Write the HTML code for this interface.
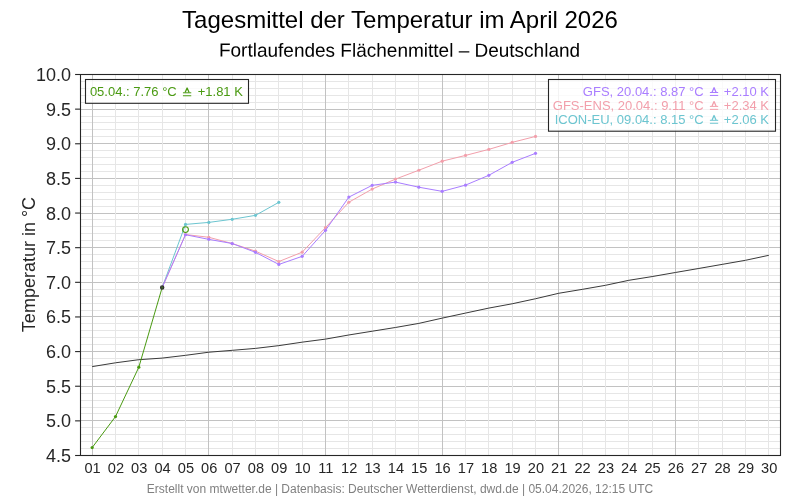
<!DOCTYPE html>
<html><head><meta charset="utf-8"><title>Tagesmittel der Temperatur</title>
<style>
html,body{margin:0;padding:0;background:#fff;}
svg{display:block;will-change:transform;font-family:"Liberation Sans",sans-serif;}
</style></head>
<body>
<svg width="800" height="500" viewBox="0 0 800 500">
<rect width="800" height="500" fill="#fff"/>
<line x1="80.5" x2="780.5" y1="455.5" y2="455.5" stroke="#c2c2c2" stroke-width="1"/>
<line x1="80.5" x2="780.5" y1="420.5" y2="420.5" stroke="#c2c2c2" stroke-width="1"/>
<line x1="80.5" x2="780.5" y1="386.5" y2="386.5" stroke="#c2c2c2" stroke-width="1"/>
<line x1="80.5" x2="780.5" y1="351.5" y2="351.5" stroke="#c2c2c2" stroke-width="1"/>
<line x1="80.5" x2="780.5" y1="316.5" y2="316.5" stroke="#c2c2c2" stroke-width="1"/>
<line x1="80.5" x2="780.5" y1="282.5" y2="282.5" stroke="#c2c2c2" stroke-width="1"/>
<line x1="80.5" x2="780.5" y1="247.5" y2="247.5" stroke="#c2c2c2" stroke-width="1"/>
<line x1="80.5" x2="780.5" y1="213.5" y2="213.5" stroke="#c2c2c2" stroke-width="1"/>
<line x1="80.5" x2="780.5" y1="178.5" y2="178.5" stroke="#c2c2c2" stroke-width="1"/>
<line x1="80.5" x2="780.5" y1="143.5" y2="143.5" stroke="#c2c2c2" stroke-width="1"/>
<line x1="80.5" x2="780.5" y1="109.5" y2="109.5" stroke="#c2c2c2" stroke-width="1"/>
<line x1="80.5" x2="780.5" y1="74.5" y2="74.5" stroke="#c2c2c2" stroke-width="1"/>
<line x1="80.5" x2="780.5" y1="448.5" y2="448.5" stroke="#e6e6e6" stroke-width="1"/>
<line x1="80.5" x2="780.5" y1="441.5" y2="441.5" stroke="#e6e6e6" stroke-width="1"/>
<line x1="80.5" x2="780.5" y1="434.5" y2="434.5" stroke="#e6e6e6" stroke-width="1"/>
<line x1="80.5" x2="780.5" y1="427.5" y2="427.5" stroke="#e6e6e6" stroke-width="1"/>
<line x1="80.5" x2="780.5" y1="413.5" y2="413.5" stroke="#e6e6e6" stroke-width="1"/>
<line x1="80.5" x2="780.5" y1="407.5" y2="407.5" stroke="#e6e6e6" stroke-width="1"/>
<line x1="80.5" x2="780.5" y1="400.5" y2="400.5" stroke="#e6e6e6" stroke-width="1"/>
<line x1="80.5" x2="780.5" y1="393.5" y2="393.5" stroke="#e6e6e6" stroke-width="1"/>
<line x1="80.5" x2="780.5" y1="379.5" y2="379.5" stroke="#e6e6e6" stroke-width="1"/>
<line x1="80.5" x2="780.5" y1="372.5" y2="372.5" stroke="#e6e6e6" stroke-width="1"/>
<line x1="80.5" x2="780.5" y1="365.5" y2="365.5" stroke="#e6e6e6" stroke-width="1"/>
<line x1="80.5" x2="780.5" y1="358.5" y2="358.5" stroke="#e6e6e6" stroke-width="1"/>
<line x1="80.5" x2="780.5" y1="344.5" y2="344.5" stroke="#e6e6e6" stroke-width="1"/>
<line x1="80.5" x2="780.5" y1="337.5" y2="337.5" stroke="#e6e6e6" stroke-width="1"/>
<line x1="80.5" x2="780.5" y1="330.5" y2="330.5" stroke="#e6e6e6" stroke-width="1"/>
<line x1="80.5" x2="780.5" y1="323.5" y2="323.5" stroke="#e6e6e6" stroke-width="1"/>
<line x1="80.5" x2="780.5" y1="310.5" y2="310.5" stroke="#e6e6e6" stroke-width="1"/>
<line x1="80.5" x2="780.5" y1="303.5" y2="303.5" stroke="#e6e6e6" stroke-width="1"/>
<line x1="80.5" x2="780.5" y1="296.5" y2="296.5" stroke="#e6e6e6" stroke-width="1"/>
<line x1="80.5" x2="780.5" y1="289.5" y2="289.5" stroke="#e6e6e6" stroke-width="1"/>
<line x1="80.5" x2="780.5" y1="275.5" y2="275.5" stroke="#e6e6e6" stroke-width="1"/>
<line x1="80.5" x2="780.5" y1="268.5" y2="268.5" stroke="#e6e6e6" stroke-width="1"/>
<line x1="80.5" x2="780.5" y1="261.5" y2="261.5" stroke="#e6e6e6" stroke-width="1"/>
<line x1="80.5" x2="780.5" y1="254.5" y2="254.5" stroke="#e6e6e6" stroke-width="1"/>
<line x1="80.5" x2="780.5" y1="240.5" y2="240.5" stroke="#e6e6e6" stroke-width="1"/>
<line x1="80.5" x2="780.5" y1="233.5" y2="233.5" stroke="#e6e6e6" stroke-width="1"/>
<line x1="80.5" x2="780.5" y1="226.5" y2="226.5" stroke="#e6e6e6" stroke-width="1"/>
<line x1="80.5" x2="780.5" y1="219.5" y2="219.5" stroke="#e6e6e6" stroke-width="1"/>
<line x1="80.5" x2="780.5" y1="206.5" y2="206.5" stroke="#e6e6e6" stroke-width="1"/>
<line x1="80.5" x2="780.5" y1="199.5" y2="199.5" stroke="#e6e6e6" stroke-width="1"/>
<line x1="80.5" x2="780.5" y1="192.5" y2="192.5" stroke="#e6e6e6" stroke-width="1"/>
<line x1="80.5" x2="780.5" y1="185.5" y2="185.5" stroke="#e6e6e6" stroke-width="1"/>
<line x1="80.5" x2="780.5" y1="171.5" y2="171.5" stroke="#e6e6e6" stroke-width="1"/>
<line x1="80.5" x2="780.5" y1="164.5" y2="164.5" stroke="#e6e6e6" stroke-width="1"/>
<line x1="80.5" x2="780.5" y1="157.5" y2="157.5" stroke="#e6e6e6" stroke-width="1"/>
<line x1="80.5" x2="780.5" y1="150.5" y2="150.5" stroke="#e6e6e6" stroke-width="1"/>
<line x1="80.5" x2="780.5" y1="136.5" y2="136.5" stroke="#e6e6e6" stroke-width="1"/>
<line x1="80.5" x2="780.5" y1="129.5" y2="129.5" stroke="#e6e6e6" stroke-width="1"/>
<line x1="80.5" x2="780.5" y1="122.5" y2="122.5" stroke="#e6e6e6" stroke-width="1"/>
<line x1="80.5" x2="780.5" y1="116.5" y2="116.5" stroke="#e6e6e6" stroke-width="1"/>
<line x1="80.5" x2="780.5" y1="102.5" y2="102.5" stroke="#e6e6e6" stroke-width="1"/>
<line x1="80.5" x2="780.5" y1="95.5" y2="95.5" stroke="#e6e6e6" stroke-width="1"/>
<line x1="80.5" x2="780.5" y1="88.5" y2="88.5" stroke="#e6e6e6" stroke-width="1"/>
<line x1="80.5" x2="780.5" y1="81.5" y2="81.5" stroke="#e6e6e6" stroke-width="1"/>
<line y1="74.5" y2="455.5" x1="92.5" x2="92.5" stroke="#c2c2c2" stroke-width="1"/>
<line y1="74.5" y2="455.5" x1="208.5" x2="208.5" stroke="#c2c2c2" stroke-width="1"/>
<line y1="74.5" y2="455.5" x1="325.5" x2="325.5" stroke="#c2c2c2" stroke-width="1"/>
<line y1="74.5" y2="455.5" x1="442.5" x2="442.5" stroke="#c2c2c2" stroke-width="1"/>
<line y1="74.5" y2="455.5" x1="558.5" x2="558.5" stroke="#c2c2c2" stroke-width="1"/>
<line y1="74.5" y2="455.5" x1="675.5" x2="675.5" stroke="#c2c2c2" stroke-width="1"/>
<line y1="74.5" y2="455.5" x1="115.5" x2="115.5" stroke="#e6e6e6" stroke-width="1"/>
<line y1="74.5" y2="455.5" x1="138.5" x2="138.5" stroke="#e6e6e6" stroke-width="1"/>
<line y1="74.5" y2="455.5" x1="162.5" x2="162.5" stroke="#e6e6e6" stroke-width="1"/>
<line y1="74.5" y2="455.5" x1="185.5" x2="185.5" stroke="#e6e6e6" stroke-width="1"/>
<line y1="74.5" y2="455.5" x1="232.5" x2="232.5" stroke="#e6e6e6" stroke-width="1"/>
<line y1="74.5" y2="455.5" x1="255.5" x2="255.5" stroke="#e6e6e6" stroke-width="1"/>
<line y1="74.5" y2="455.5" x1="278.5" x2="278.5" stroke="#e6e6e6" stroke-width="1"/>
<line y1="74.5" y2="455.5" x1="302.5" x2="302.5" stroke="#e6e6e6" stroke-width="1"/>
<line y1="74.5" y2="455.5" x1="348.5" x2="348.5" stroke="#e6e6e6" stroke-width="1"/>
<line y1="74.5" y2="455.5" x1="372.5" x2="372.5" stroke="#e6e6e6" stroke-width="1"/>
<line y1="74.5" y2="455.5" x1="395.5" x2="395.5" stroke="#e6e6e6" stroke-width="1"/>
<line y1="74.5" y2="455.5" x1="418.5" x2="418.5" stroke="#e6e6e6" stroke-width="1"/>
<line y1="74.5" y2="455.5" x1="465.5" x2="465.5" stroke="#e6e6e6" stroke-width="1"/>
<line y1="74.5" y2="455.5" x1="488.5" x2="488.5" stroke="#e6e6e6" stroke-width="1"/>
<line y1="74.5" y2="455.5" x1="512.5" x2="512.5" stroke="#e6e6e6" stroke-width="1"/>
<line y1="74.5" y2="455.5" x1="535.5" x2="535.5" stroke="#e6e6e6" stroke-width="1"/>
<line y1="74.5" y2="455.5" x1="582.5" x2="582.5" stroke="#e6e6e6" stroke-width="1"/>
<line y1="74.5" y2="455.5" x1="605.5" x2="605.5" stroke="#e6e6e6" stroke-width="1"/>
<line y1="74.5" y2="455.5" x1="628.5" x2="628.5" stroke="#e6e6e6" stroke-width="1"/>
<line y1="74.5" y2="455.5" x1="652.5" x2="652.5" stroke="#e6e6e6" stroke-width="1"/>
<line y1="74.5" y2="455.5" x1="698.5" x2="698.5" stroke="#e6e6e6" stroke-width="1"/>
<line y1="74.5" y2="455.5" x1="722.5" x2="722.5" stroke="#e6e6e6" stroke-width="1"/>
<line y1="74.5" y2="455.5" x1="745.5" x2="745.5" stroke="#e6e6e6" stroke-width="1"/>
<line y1="74.5" y2="455.5" x1="768.5" x2="768.5" stroke="#e6e6e6" stroke-width="1"/>
<polyline fill="none" stroke="#3a3a3a" stroke-width="1.0" points="92.17,366.62 115.50,362.81 138.83,359.70 162.17,358.10 185.50,355.33 208.83,352.21 232.17,350.34 255.50,348.40 278.83,345.63 302.17,342.17 325.50,339.12 348.83,334.97 372.17,331.22 395.50,327.48 418.83,323.40 442.17,318.13 465.50,313.08 488.83,308.09 512.17,303.79 535.50,298.74 558.83,293.26 582.17,289.38 605.50,285.30 628.83,280.31 652.17,276.57 675.50,272.48 698.83,268.46 722.17,264.38 745.50,260.29 768.83,255.30"/>
<polyline fill="none" stroke="#6cc5d0" stroke-width="1.0" points="162.17,287.51 185.50,224.41 208.83,222.40 232.17,219.28 255.50,215.33 278.83,202.31"/><circle cx="185.50" cy="224.41" r="1.6" fill="#6cc5d0"/><circle cx="208.83" cy="222.40" r="1.6" fill="#6cc5d0"/><circle cx="232.17" cy="219.28" r="1.6" fill="#6cc5d0"/><circle cx="255.50" cy="215.33" r="1.6" fill="#6cc5d0"/><circle cx="278.83" cy="202.31" r="1.6" fill="#6cc5d0"/>
<polyline fill="none" stroke="#f29fab" stroke-width="1.0" points="162.17,287.51 185.50,234.52 208.83,237.29 232.17,243.53 255.50,251.15 278.83,261.54 302.17,252.18 325.50,227.59 348.83,202.24 372.17,189.08 395.50,179.10 418.83,170.23 442.17,161.16 465.50,155.41 488.83,149.38 512.17,142.39 535.50,136.43"/><circle cx="185.50" cy="234.52" r="1.6" fill="#f29fab"/><circle cx="208.83" cy="237.29" r="1.6" fill="#f29fab"/><circle cx="232.17" cy="243.53" r="1.6" fill="#f29fab"/><circle cx="255.50" cy="251.15" r="1.6" fill="#f29fab"/><circle cx="278.83" cy="261.54" r="1.6" fill="#f29fab"/><circle cx="302.17" cy="252.18" r="1.6" fill="#f29fab"/><circle cx="325.50" cy="227.59" r="1.6" fill="#f29fab"/><circle cx="348.83" cy="202.24" r="1.6" fill="#f29fab"/><circle cx="372.17" cy="189.08" r="1.6" fill="#f29fab"/><circle cx="395.50" cy="179.10" r="1.6" fill="#f29fab"/><circle cx="418.83" cy="170.23" r="1.6" fill="#f29fab"/><circle cx="442.17" cy="161.16" r="1.6" fill="#f29fab"/><circle cx="465.50" cy="155.41" r="1.6" fill="#f29fab"/><circle cx="488.83" cy="149.38" r="1.6" fill="#f29fab"/><circle cx="512.17" cy="142.39" r="1.6" fill="#f29fab"/><circle cx="535.50" cy="136.43" r="1.6" fill="#f29fab"/>
<polyline fill="none" stroke="#a97dff" stroke-width="1.0" points="162.17,287.51 185.50,234.73 208.83,239.37 232.17,243.53 255.50,252.32 278.83,264.45 302.17,256.34 325.50,230.36 348.83,197.11 372.17,185.34 395.50,182.08 418.83,187.21 442.17,191.36 465.50,185.13 488.83,175.29 512.17,162.34 535.50,153.33"/><circle cx="185.50" cy="234.73" r="1.6" fill="#a97dff"/><circle cx="208.83" cy="239.37" r="1.6" fill="#a97dff"/><circle cx="232.17" cy="243.53" r="1.6" fill="#a97dff"/><circle cx="255.50" cy="252.32" r="1.6" fill="#a97dff"/><circle cx="278.83" cy="264.45" r="1.6" fill="#a97dff"/><circle cx="302.17" cy="256.34" r="1.6" fill="#a97dff"/><circle cx="325.50" cy="230.36" r="1.6" fill="#a97dff"/><circle cx="348.83" cy="197.11" r="1.6" fill="#a97dff"/><circle cx="372.17" cy="185.34" r="1.6" fill="#a97dff"/><circle cx="395.50" cy="182.08" r="1.6" fill="#a97dff"/><circle cx="418.83" cy="187.21" r="1.6" fill="#a97dff"/><circle cx="442.17" cy="191.36" r="1.6" fill="#a97dff"/><circle cx="465.50" cy="185.13" r="1.6" fill="#a97dff"/><circle cx="488.83" cy="175.29" r="1.6" fill="#a97dff"/><circle cx="512.17" cy="162.34" r="1.6" fill="#a97dff"/><circle cx="535.50" cy="153.33" r="1.6" fill="#a97dff"/>
<polyline fill="none" stroke="#4a9a12" stroke-width="1.0" points="92.17,447.60 115.50,416.57 138.83,367.18 162.17,287.51"/><circle cx="92.17" cy="447.60" r="1.6" fill="#4a9a12"/><circle cx="115.50" cy="416.57" r="1.6" fill="#4a9a12"/><circle cx="138.83" cy="367.18" r="1.6" fill="#4a9a12"/>
<circle cx="162.17" cy="287.51" r="1.6" fill="#3f6d22" stroke="#333" stroke-width="1.3"/>
<circle cx="185.50" cy="229.60" r="2.9" fill="none" stroke="#4a9a12" stroke-width="1.1"/>
<rect x="80.5" y="74.5" width="700.0" height="381.0" fill="none" stroke="#262626" stroke-width="1.1"/>
<line x1="75.1" x2="80.5" y1="455.50" y2="455.50" stroke="#262626" stroke-width="1.1"/>
<text x="71" y="462.00" text-anchor="end" font-size="18" fill="#262626">4.5</text>
<line x1="75.1" x2="80.5" y1="420.86" y2="420.86" stroke="#262626" stroke-width="1.1"/>
<text x="71" y="427.36" text-anchor="end" font-size="18" fill="#262626">5.0</text>
<line x1="75.1" x2="80.5" y1="386.23" y2="386.23" stroke="#262626" stroke-width="1.1"/>
<text x="71" y="392.73" text-anchor="end" font-size="18" fill="#262626">5.5</text>
<line x1="75.1" x2="80.5" y1="351.59" y2="351.59" stroke="#262626" stroke-width="1.1"/>
<text x="71" y="358.09" text-anchor="end" font-size="18" fill="#262626">6.0</text>
<line x1="75.1" x2="80.5" y1="316.95" y2="316.95" stroke="#262626" stroke-width="1.1"/>
<text x="71" y="323.45" text-anchor="end" font-size="18" fill="#262626">6.5</text>
<line x1="75.1" x2="80.5" y1="282.32" y2="282.32" stroke="#262626" stroke-width="1.1"/>
<text x="71" y="288.82" text-anchor="end" font-size="18" fill="#262626">7.0</text>
<line x1="75.1" x2="80.5" y1="247.68" y2="247.68" stroke="#262626" stroke-width="1.1"/>
<text x="71" y="254.18" text-anchor="end" font-size="18" fill="#262626">7.5</text>
<line x1="75.1" x2="80.5" y1="213.05" y2="213.05" stroke="#262626" stroke-width="1.1"/>
<text x="71" y="219.55" text-anchor="end" font-size="18" fill="#262626">8.0</text>
<line x1="75.1" x2="80.5" y1="178.41" y2="178.41" stroke="#262626" stroke-width="1.1"/>
<text x="71" y="184.91" text-anchor="end" font-size="18" fill="#262626">8.5</text>
<line x1="75.1" x2="80.5" y1="143.77" y2="143.77" stroke="#262626" stroke-width="1.1"/>
<text x="71" y="150.27" text-anchor="end" font-size="18" fill="#262626">9.0</text>
<line x1="75.1" x2="80.5" y1="109.14" y2="109.14" stroke="#262626" stroke-width="1.1"/>
<text x="71" y="115.64" text-anchor="end" font-size="18" fill="#262626">9.5</text>
<line x1="75.1" x2="80.5" y1="74.50" y2="74.50" stroke="#262626" stroke-width="1.1"/>
<text x="71" y="81.00" text-anchor="end" font-size="18" fill="#262626">10.0</text>
<text x="92.57" y="472.9" text-anchor="middle" font-size="14.6" fill="#262626">01</text>
<text x="115.90" y="472.9" text-anchor="middle" font-size="14.6" fill="#262626">02</text>
<text x="139.23" y="472.9" text-anchor="middle" font-size="14.6" fill="#262626">03</text>
<text x="162.57" y="472.9" text-anchor="middle" font-size="14.6" fill="#262626">04</text>
<text x="185.90" y="472.9" text-anchor="middle" font-size="14.6" fill="#262626">05</text>
<text x="209.23" y="472.9" text-anchor="middle" font-size="14.6" fill="#262626">06</text>
<text x="232.57" y="472.9" text-anchor="middle" font-size="14.6" fill="#262626">07</text>
<text x="255.90" y="472.9" text-anchor="middle" font-size="14.6" fill="#262626">08</text>
<text x="279.23" y="472.9" text-anchor="middle" font-size="14.6" fill="#262626">09</text>
<text x="302.57" y="472.9" text-anchor="middle" font-size="14.6" fill="#262626">10</text>
<text x="325.90" y="472.9" text-anchor="middle" font-size="14.6" fill="#262626">11</text>
<text x="349.23" y="472.9" text-anchor="middle" font-size="14.6" fill="#262626">12</text>
<text x="372.57" y="472.9" text-anchor="middle" font-size="14.6" fill="#262626">13</text>
<text x="395.90" y="472.9" text-anchor="middle" font-size="14.6" fill="#262626">14</text>
<text x="419.23" y="472.9" text-anchor="middle" font-size="14.6" fill="#262626">15</text>
<text x="442.57" y="472.9" text-anchor="middle" font-size="14.6" fill="#262626">16</text>
<text x="465.90" y="472.9" text-anchor="middle" font-size="14.6" fill="#262626">17</text>
<text x="489.23" y="472.9" text-anchor="middle" font-size="14.6" fill="#262626">18</text>
<text x="512.57" y="472.9" text-anchor="middle" font-size="14.6" fill="#262626">19</text>
<text x="535.90" y="472.9" text-anchor="middle" font-size="14.6" fill="#262626">20</text>
<text x="559.23" y="472.9" text-anchor="middle" font-size="14.6" fill="#262626">21</text>
<text x="582.57" y="472.9" text-anchor="middle" font-size="14.6" fill="#262626">22</text>
<text x="605.90" y="472.9" text-anchor="middle" font-size="14.6" fill="#262626">23</text>
<text x="629.23" y="472.9" text-anchor="middle" font-size="14.6" fill="#262626">24</text>
<text x="652.57" y="472.9" text-anchor="middle" font-size="14.6" fill="#262626">25</text>
<text x="675.90" y="472.9" text-anchor="middle" font-size="14.6" fill="#262626">26</text>
<text x="699.23" y="472.9" text-anchor="middle" font-size="14.6" fill="#262626">27</text>
<text x="722.57" y="472.9" text-anchor="middle" font-size="14.6" fill="#262626">28</text>
<text x="745.90" y="472.9" text-anchor="middle" font-size="14.6" fill="#262626">29</text>
<text x="769.23" y="472.9" text-anchor="middle" font-size="14.6" fill="#262626">30</text>
<rect x="85.5" y="79.5" width="163" height="23.8" fill="#fff" fill-opacity="0.8" stroke="#262626" stroke-width="1.1"/>
<text x="176.75" y="96" text-anchor="end" font-size="13" fill="#4a9a12">05.04.: 7.76 °C</text><path d="M185.10,92.50 L187.10,88.00 L189.10,92.50" fill="none" stroke="#4a9a12" stroke-width="1.3" stroke-linejoin="round"/><path d="M182.95,92.80 H191.25 M182.95,95.75 H191.25" fill="none" stroke="#4a9a12" stroke-width="1"/><text x="242.90" y="96" text-anchor="end" font-size="13" fill="#4a9a12">+1.81 K</text>
<rect x="548.5" y="79.5" width="227" height="51.7" fill="#fff" fill-opacity="0.8" stroke="#262626" stroke-width="1.1"/>
<text x="703.70" y="95.7" text-anchor="end" font-size="13" fill="#a97dff">GFS, 20.04.: 8.87 °C</text><path d="M712.05,92.20 L714.05,87.70 L716.05,92.20" fill="none" stroke="#a97dff" stroke-width="1.3" stroke-linejoin="round"/><path d="M709.90,92.50 H718.20 M709.90,95.45 H718.20" fill="none" stroke="#a97dff" stroke-width="1"/><text x="769.00" y="95.7" text-anchor="end" font-size="13" fill="#a97dff">+2.10 K</text>
<text x="703.70" y="109.6" text-anchor="end" font-size="13" fill="#f29fab">GFS-ENS, 20.04.: 9.11 °C</text><path d="M712.05,106.10 L714.05,101.60 L716.05,106.10" fill="none" stroke="#f29fab" stroke-width="1.3" stroke-linejoin="round"/><path d="M709.90,106.40 H718.20 M709.90,109.35 H718.20" fill="none" stroke="#f29fab" stroke-width="1"/><text x="769.00" y="109.6" text-anchor="end" font-size="13" fill="#f29fab">+2.34 K</text>
<text x="703.70" y="123.5" text-anchor="end" font-size="13" fill="#6cc5d0">ICON-EU, 09.04.: 8.15 °C</text><path d="M712.05,120.00 L714.05,115.50 L716.05,120.00" fill="none" stroke="#6cc5d0" stroke-width="1.3" stroke-linejoin="round"/><path d="M709.90,120.30 H718.20 M709.90,123.25 H718.20" fill="none" stroke="#6cc5d0" stroke-width="1"/><text x="769.00" y="123.5" text-anchor="end" font-size="13" fill="#6cc5d0">+2.06 K</text>
<text id="title" x="400" y="28.2" text-anchor="middle" font-size="24" fill="#000">Tagesmittel der Temperatur im April 2026</text>
<text id="sub" transform="translate(399.5,56.7) rotate(0.03)" text-anchor="middle" font-size="19" fill="#000">Fortlaufendes Flächenmittel – Deutschland</text>
<text id="ylab" transform="translate(35,264.5) rotate(-90)" text-anchor="middle" font-size="18" fill="#262626">Temperatur in °C</text>
<text id="foot" x="400" y="493" text-anchor="middle" font-size="12" fill="#808080">Erstellt von mtwetter.de | Datenbasis: Deutscher Wetterdienst, dwd.de | 05.04.2026, 12:15 UTC</text>
</svg>
</body></html>
